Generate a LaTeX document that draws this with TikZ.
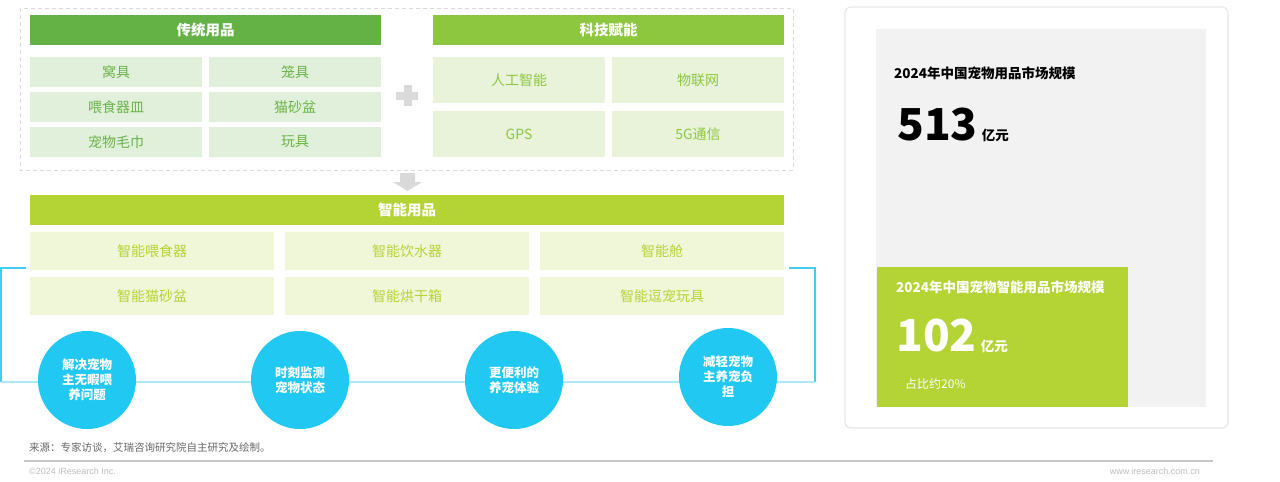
\documentclass[tikz,border=0pt]{standalone}
\usepackage{fontspec}
\setmainfont{Noto Sans CJK SC}
\newfontfamily\latinfont{Liberation Sans}

\definecolor{oldgreen}{HTML}{64B246}
\definecolor{oldfill}{HTML}{E0F0DA}
\definecolor{oldtext}{HTML}{6CB24C}
\definecolor{techgreen}{HTML}{8DC63F}
\definecolor{techfill}{HTML}{E8F3DA}
\definecolor{lime}{HTML}{B4D335}
\definecolor{smartfill}{HTML}{F0F6D8}
\definecolor{goalcyan}{HTML}{20C8F2}
\definecolor{linecyan}{HTML}{44CCEF}
\definecolor{linepale}{HTML}{AEE8F7}
\definecolor{markgray}{HTML}{D9D9D9}
\definecolor{panelgray}{HTML}{F2F2F2}
\definecolor{srcgray}{HTML}{666666}
\definecolor{footgray}{HTML}{BDBDBD}

\begin{document}
\begin{tikzpicture}[
        x = 1pt, y = -1pt, % one unit per pixel, y runs down
        node distance = 179pt, % centre to centre of two cells
        font = \fontsize{14}{16}\selectfont, % cell text
        inner sep = 0pt
      ]

      \tikzstyle{head}=[rectangle, minimum height=30pt, text=white, font=\fontsize{14.5}{16}\selectfont\bfseries]
      \tikzstyle{oldcell}=[rectangle, fill=oldfill, text=oldtext, minimum width=172pt, minimum height=30pt]
      \tikzstyle{techcell}=[rectangle, fill=techfill, text=techgreen, minimum width=172pt, minimum height=46pt]
      \tikzstyle{smartcell}=[rectangle, fill=smartfill, text=lime, minimum width=244pt, minimum height=38pt]
      \tikzstyle{goal}=[circle, fill=goalcyan, minimum size=98pt, align=center, text=white, font=\fontsize{12.5}{15}\selectfont\bfseries]
      \tikzstyle{bracket}=[draw=linecyan, line width=1.5pt]

      \useasboundingbox (0,0) rectangle (1280,482);

      % traditional + tech
      \draw[markgray, dash pattern=on 4pt off 3pt, line width=0.8pt] (20,8) rectangle (793,170);

      \node[head, fill=oldgreen, minimum width=351pt] (old) at (205.5,30) {传统用品};
      \node[oldcell] (nest) at (116,72) {窝具};
      \node[oldcell] (cage) [right of=nest] {笼具};
      \node[oldcell] (bowl) [below of=nest, node distance=35pt] {喂食器皿};
      \node[oldcell] (litter) [right of=bowl] {猫砂盆};
      \node[oldcell] (towel) [below of=bowl, node distance=35pt] {宠物毛巾};
      \node[oldcell] (toy) [right of=towel] {玩具};

      \node[head, fill=techgreen, minimum width=351pt] (tech) at (608.5,30) {科技赋能};
      \node[techcell] (ai) at (519,80) {人工智能};
      \node[techcell] (iot) [right of=ai] {物联网};
      \node[techcell] (gps) [below of=ai, node distance=54pt] {GPS};
      \node[techcell] (fiveg) [right of=gps] {5G通信};

      % plus and down arrow
      \fill[markgray] (396,92) rectangle (418,100);
      \fill[markgray] (404,85) rectangle (412,106);
      \fill[markgray] (400,173) -- (415,173) -- (415,182) -- (422,182)
        -- (407.5,191) -- (393,182) -- (400,182) -- cycle;

      % smart products
      \node[head, fill=lime, minimum width=754pt] (smart) at (407,210) {智能用品};
      \node[smartcell] (feeder) at (152,251) {智能喂食器};
      \node[smartcell] (water) [right of=feeder, node distance=255pt] {智能饮水器};
      \node[smartcell] (cabin) [right of=water, node distance=255pt] {智能舱};
      \node[smartcell] (box) [below of=feeder, node distance=45pt] {智能猫砂盆};
      \node[smartcell] (dryer) [right of=box, node distance=255pt] {智能烘干箱};
      \node[smartcell] (play) [right of=dryer, node distance=255pt] {智能逗宠玩具};

      % bracket behind the goals
      \coordinate (ltop) at (26,268);
      \coordinate (lcorner) at (1,268);
      \coordinate (lbot) at (1,382);
      \coordinate (rtop) at (789,268);
      \coordinate (rcorner) at (815,268);
      \coordinate (rbot) at (815,382);
      \draw[bracket] (ltop) -- (lcorner) -- (lbot);
      \draw[bracket] (rtop) -- (rcorner) -- (rbot);
      \draw[linepale, line width=2pt] (lbot) -- (rbot);

      \node[goal] (g1) at (87,380) {解决宠物\\主无暇喂\\养问题};
      \node[goal] (g2) at (300,380) {时刻监测\\宠物状态};
      \node[goal] (g3) at (514,380) {更便利的\\养宠体验};
      \node[goal] (g4) at (728,377) {减轻宠物\\主养宠负\\担};

      % market size card
      \draw[draw=black!9, line width=1.2pt, fill=white, rounded corners=6pt] (845,7) rectangle (1228,428);
      \fill[panelgray] (876,29) rectangle (1206,407);
      \fill[lime] (877,267) rectangle (1128,407);

      \node[anchor=west, font=\fontsize{13.5}{15}\selectfont\bfseries] (all) at (894,73) {2024年中国宠物用品市场规模};
      \node[anchor=base west, font=\fontsize{44}{48}\selectfont\bfseries] (allnum) at (897,140) {513};
      \node[anchor=base west, font=\fontsize{13.5}{15}\selectfont\bfseries] (allunit) at ([xshift=4pt]allnum.base east) {亿元};

      \node[anchor=west, text=white, font=\fontsize{13.5}{15}\selectfont\bfseries] (part) at (896,287) {2024年中国宠物智能用品市场规模};
      \node[anchor=base west, text=white, font=\fontsize{44}{48}\selectfont\bfseries] (partnum) at (896,351) {102};
      \node[anchor=base west, text=white, font=\fontsize{13.5}{15}\selectfont\bfseries] (partunit) at ([xshift=4pt]partnum.base east) {亿元};
      \node[anchor=west, text=white, font=\fontsize{12}{14}\selectfont] (share) at (905,384) {占比约20\%};

      % footer
      \node[anchor=west, text=srcgray, font=\fontsize{10.5}{12}\selectfont] (src) at (29,448) {来源：专家访谈，艾瑞咨询研究院自主研究及绘制。};
      \coordinate (rulel) at (24,461);
      \coordinate (ruler) at (1213,461);
      \draw[black!22, line width=2pt] (rulel) -- (ruler);
      \node[anchor=west, text=footgray, font=\latinfont\fontsize{9}{10}\selectfont] (copy) at (29,471) {©2024 iResearch Inc.};
      \node[anchor=east, text=footgray, font=\latinfont\fontsize{9}{10}\selectfont] (web) at (1200,471) {www.iresearch.com.cn};

    \end{tikzpicture}
\end{document}
